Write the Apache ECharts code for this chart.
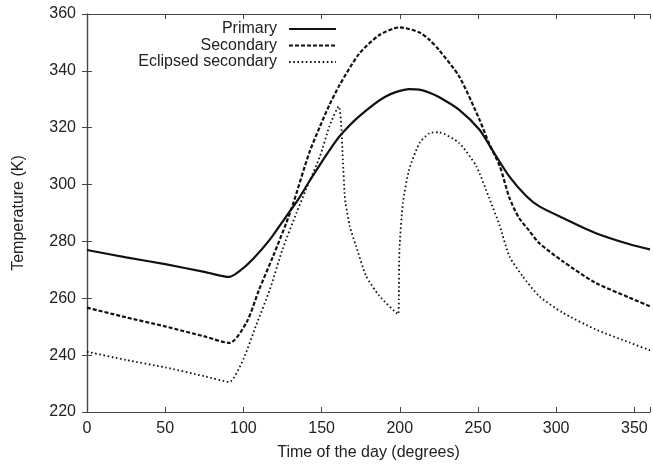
<!DOCTYPE html>
<html>
<head>
<meta charset="utf-8">
<script src="https://cdn.jsdelivr.net/npm/echarts@6/dist/echarts.min.js"></script>
<style>
html,body{margin:0;padding:0;background:#fff;}
#chart{width:653px;height:466px;}
</style>
</head>
<body>
<div id="chart"></div>
<script>
var seriesNames = ['Primary', 'Secondary', 'Eclipsed secondary'];
var xTicks = [0, 50, 100, 150, 200, 250, 300, 350];
var yTicks = [220, 240, 260, 280, 300, 320, 340, 360];

var primary = [
  [0,277],[25,274.4],[50,272],[75,269.3],[91,267.5],[97.7,269.6],[106,273.7],[117,280.7],
  [127.5,288.9],[135,294.7],[142,301],[149,307],[155,312],[161.5,317],[174,324],
  [191,331],[206,333.6],[212.6,333.4],[219,332.3],[225,330.8],[238,326.3],[251,319.3],[259,312.3],
  [270,302.9],[281,295.9],[289,292.4],[304,288.3],[325,283],[347,279],[360,277.2]
];
var secondary = [
  [0,256.7],[25,253.3],[50,250.1],[75,246.6],[91,244.3],[102,251.5],[110,263],[119,274.8],
  [127.5,286.6],[132,293.6],[142,311],[149,320.5],[155,328],[161.5,335],[174,346],
  [187,352.6],[200,355.3],[212.6,353.5],[219,350.9],[225,347.4],[238,338],[251,322.8],
  [257,314.6],[264,306.4],[270,295.5],[276,288.5],[283,283.6],[289,279.5],[304,273.1],
  [325,265.5],[347,260.2],[360,257.2]
];
var eclipsed = [
  [0,241.2],[25,238.3],[50,235.7],[75,232.6],[91,230.6],[100,238.6],[108,250.3],[117,263.2],
  [125,277.2],[134,290.1],[140,298.2],[149,310],[155,320.5],[161,327.5],[162.6,320.5],
  [163.6,308.8],[164.7,297],[165.3,293.6],[168,285.4],[172,278.4],[178.5,267.8],[187,260.8],
  [199,254.4],[199.4,259.6],[199.8,277.2],[202,293.6],[206,305.3],[212.6,314.6],[219,318.1],
  [225,318.4],[238,314.6],[249,306.4],[257,295.5],[264,285.4],[270,274.8],[278.5,267.8],
  [289,260.8],[304,255],[325,249.1],[347,244.4],[360,241.7]
];

var FONT = 'Liberation Sans';
var TXT = '#222';
var FRAME = '#444';

function legendFor(name, top) {
  return {
    data: [name],
    right: 316,
    top: top,
    orient: 'vertical',
    align: 'right',
    itemWidth: 47,
    itemHeight: 14,
    padding: 0,
    selectedMode: false,
    itemStyle: {opacity: 0},
    textStyle: {fontFamily: FONT, fontSize: 16, color: TXT, padding: [0, 7, 0, 0]}
  };
}

var chart = echarts.init(document.getElementById('chart'), null, {renderer: 'canvas'});
chart.setOption({
  animation: false,
  backgroundColor: '#fff',
  grid: {left: 87, right: 2, top: 14, bottom: 53, containLabel: false},
  legend: [legendFor(seriesNames[0], 21), legendFor(seriesNames[1], 37.5), legendFor(seriesNames[2], 54)],
  xAxis: [{
    type: 'value', min: 0, max: 360, interval: 50,
    name: 'Time of the day (degrees)', nameLocation: 'middle', nameGap: 33,
    nameTextStyle: {fontFamily: FONT, fontSize: 16, color: TXT},
    axisLine: {show: true, lineStyle: {color: FRAME, width: 1.2}},
    axisTick: {show: true, inside: true, length: 5, lineStyle: {color: FRAME}},
    axisLabel: {fontFamily: FONT, fontSize: 16, color: TXT, margin: 9,
      formatter: function (v) { return xTicks.indexOf(v) >= 0 ? String(v) : ''; }},
    splitLine: {show: false}
  }, {
    type: 'value', position: 'top', min: 0, max: 360, interval: 50,
    axisLine: {show: true, lineStyle: {color: FRAME, width: 1.2}},
    axisTick: {show: true, inside: true, length: 5, lineStyle: {color: FRAME}},
    axisLabel: {show: false}, splitLine: {show: false}
  }],
  yAxis: [{
    type: 'value', min: 220, max: 360, interval: 20,
    name: 'Temperature (K)', nameLocation: 'middle', nameGap: 60, nameRotate: 90,
    nameTextStyle: {fontFamily: FONT, fontSize: 16, color: TXT},
    axisLine: {show: true, lineStyle: {color: FRAME, width: 1.2}},
    axisTick: {show: true, inside: true, length: 5, lineStyle: {color: FRAME}},
    axisLabel: {fontFamily: FONT, fontSize: 16, color: TXT, margin: 11,
      formatter: function (v) { return yTicks.indexOf(v) >= 0 ? String(v) : ''; }},
    splitLine: {show: false}
  }, {
    type: 'value', position: 'right', min: 220, max: 360, interval: 20,
    axisLine: {show: true, lineStyle: {color: FRAME, width: 1.2}},
    axisTick: {show: true, inside: true, length: 5, lineStyle: {color: FRAME}},
    axisLabel: {show: false}, splitLine: {show: false}
  }],
  series: [{
    name: seriesNames[0], type: 'line', data: primary, symbol: 'none',
    smooth: 0.25,
    color: '#111',
    lineStyle: {color: '#111', width: 2.2, type: 'solid'}
  }, {
    name: seriesNames[1], type: 'line', data: secondary, symbol: 'none',
    smooth: 0.25,
    color: '#111',
    lineStyle: {color: '#111', width: 2.2, type: [4, 2]}
  }, {
    name: seriesNames[2], type: 'line', data: eclipsed, symbol: 'none',
    smooth: 0.2,
    color: '#111',
    lineStyle: {color: '#111', width: 1.8, type: [1.6, 2.6]}
  }]
});
</script>
</body>
</html>
